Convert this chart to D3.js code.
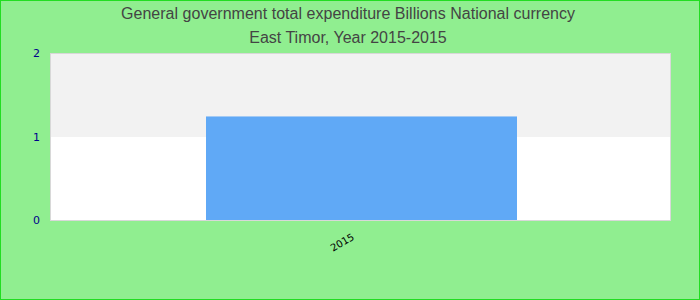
<!DOCTYPE html>
<html><head><meta charset="utf-8">
<script src="https://cdn.jsdelivr.net/npm/d3@7"></script>
<style>html,body{margin:0;padding:0;background:#90ee90;}svg{display:block;}</style>
</head><body>
<script>
const categories = ["2015"];
const values = [1.24];
const yTicks = [0, 1, 2];
const titleLines = ["General government total expenditure Billions National currency", "East Timor, Year 2015-2015"];

const W = 700, H = 300;
const m = {left: 50, right: 30, top: 53, bottom: 80};
const svg = d3.select("body").append("svg").attr("width", W).attr("height", H);
svg.append("rect").attr("x", 0.5).attr("y", 0.5).attr("width", W - 1).attr("height", H - 1)
  .attr("fill", "#90ee90").attr("stroke", "#22dd22").attr("stroke-width", 1);

const x = d3.scaleBand().domain(categories).range([m.left, W - m.right]).paddingInner(0.5).paddingOuter(0.25);
const y = d3.scaleLinear().domain([0, 2]).range([H - m.bottom, m.top]);

const pw = W - m.right - m.left;
svg.append("rect").attr("x", m.left).attr("y", y(2)).attr("width", pw).attr("height", Math.round(y(1)) - y(2)).attr("fill", "#f2f2f2").attr("shape-rendering", "crispEdges");
svg.append("rect").attr("x", m.left).attr("y", Math.round(y(1))).attr("width", pw).attr("height", y(0) - Math.round(y(1))).attr("fill", "#ffffff").attr("shape-rendering", "crispEdges");

svg.selectAll(".bar").data(values).enter().append("rect")
  .attr("x", (d, i) => x(categories[i]) + 1)
  .attr("width", x.bandwidth() + 1)
  .attr("y", d => y(d))
  .attr("height", d => y(0) - y(d))
  .attr("fill", "#60a9f6");

svg.append("rect").attr("x", m.left + 0.5).attr("y", y(2) + 0.5).attr("width", pw).attr("height", y(0) - y(2))
  .attr("fill", "none").attr("stroke", "#d8d8d8").attr("stroke-width", 1);

const yAxis = svg.append("g").attr("transform", `translate(${m.left},0)`)
  .call(d3.axisLeft(y).tickValues(yTicks).tickFormat(d3.format("d")).tickSize(0).tickPadding(10));
yAxis.select(".domain").remove();
yAxis.selectAll("text").attr("fill", "#00008b").attr("font-family", "DejaVu Sans, sans-serif").attr("font-size", 11);

const xAxis = svg.append("g").attr("transform", `translate(0,${y(0)})`)
  .call(d3.axisBottom(x).tickSize(0));
xAxis.select(".domain").remove();
xAxis.selectAll("text")
  .attr("fill", "#000").attr("font-family", "DejaVu Sans, sans-serif").attr("font-size", 10)
  .attr("text-anchor", "end").attr("dy", 0).attr("y", 0)
  .attr("transform", "translate(-5,19) rotate(-30)");

svg.selectAll(".title").data(titleLines).enter().append("text")
  .attr("x", W / 2 - 2).attr("y", (d, i) => 19 + i * 24)
  .attr("text-anchor", "middle").attr("fill", "#444")
  .attr("font-family", "Liberation Sans, Arial, sans-serif").attr("font-size", 16)
  .attr("textLength", (d, i) => i === 0 ? 454 : null)
  .text(d => d);
</script>
</body></html>
